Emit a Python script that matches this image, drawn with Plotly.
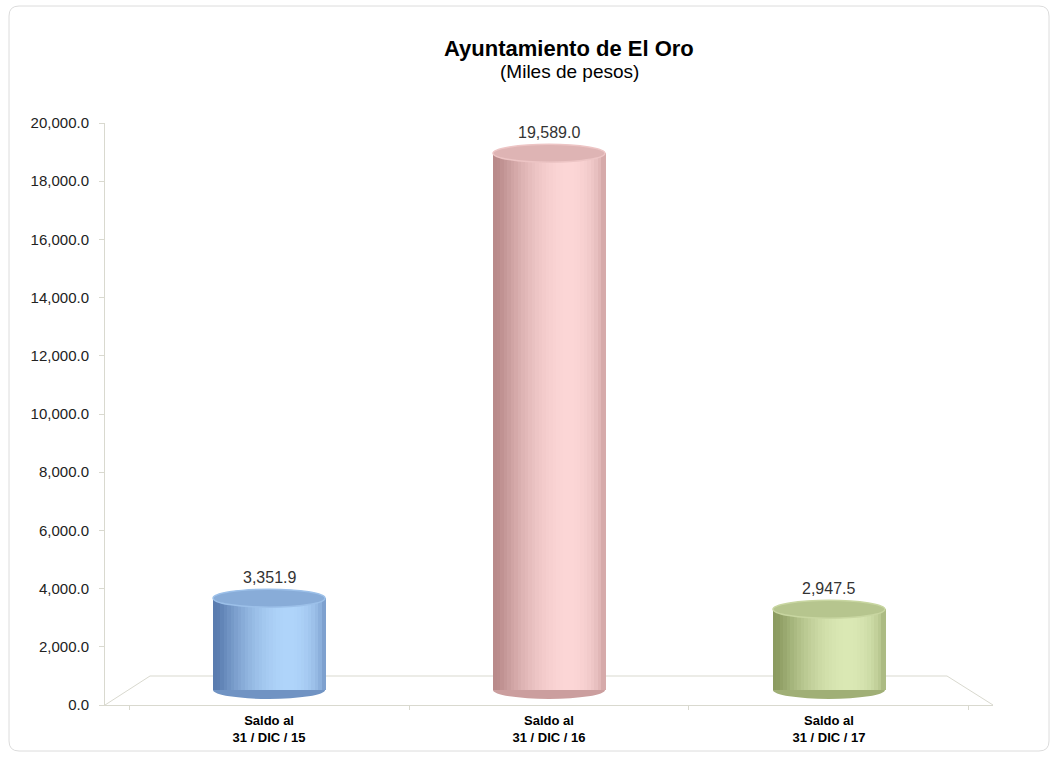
import math
import plotly.graph_objects as go

categories = ["Saldo al<br>31 / DIC / 15", "Saldo al<br>31 / DIC / 16", "Saldo al<br>31 / DIC / 17"]
values = [3351.9, 19589.0, 2947.5]
tick_vals = [0, 2000, 4000, 6000, 8000, 10000, 12000, 14000, 16000, 18000, 20000]

# cylinder colours: (dark edge, highlight)
bar_dark = [(78, 112, 165), (176, 128, 128), (128, 144, 84)]
bar_light = [(175, 212, 250), (252, 214, 214), (218, 232, 180)]

W, H = 1053, 757
L, R, T, B = 105, 993, 123, 705
FONT = "Arial, Liberation Sans, sans-serif"
floor_col = "#d9d9cf"

BAR_W = 0.4
N_STRIPS = 32
ELL_PX = 9                      # half height of cylinder caps in pixels
Y2_RANGE = [-547, 20693]        # scale used for the 3D cylinders
y2_per_px = (Y2_RANGE[1] - Y2_RANGE[0]) / (B - T)


def mix(c0, c1, t):
    t = max(0.0, min(1.0, t))
    return "rgb(%d,%d,%d)" % tuple(round(a + (b - a) * t) for a, b in zip(c0, c1))


def shade(u):
    theta = math.asin(max(-1.0, min(1.0, u)))
    d = max(0.0, math.cos(theta - 0.35))
    return 0.12 + 0.88 * d ** 1.5


fig = go.Figure()
# invisible trace that anchors the visible value axis
fig.add_trace(go.Scatter(x=categories, y=values, mode="markers", marker=dict(opacity=0),
                         hoverinfo="skip", showlegend=False))
step = BAR_W / N_STRIPS
for k in range(N_STRIPS):
    off = -BAR_W / 2 + k * step
    u = (off + step / 2) / (BAR_W / 2)
    s = shade(u)
    cols = [mix(d, l, s) for d, l in zip(bar_dark, bar_light)]
    fig.add_trace(go.Bar(
        x=categories, y=values, offset=off, width=step * 1.35,
        marker=dict(color=cols, line=dict(width=0)),
        yaxis="y2", hoverinfo="skip", showlegend=False,
    ))


def px(x):
    return (x - L) / (R - L)


def py(y):
    return (B - y) / (B - T)


shapes = []
ell_h = ELL_PX * y2_per_px
for i, v in enumerate(values):
    # bottom rounding
    shapes.append(dict(type="circle", xref="x", yref="y2", x0=i - BAR_W / 2, x1=i + BAR_W / 2,
                       y0=-ell_h, y1=ell_h, fillcolor=mix(bar_dark[i], bar_light[i], 0.35),
                       line=dict(width=0), layer="below"))
    # top cap
    shapes.append(dict(type="circle", xref="x", yref="y2", x0=i - BAR_W / 2, x1=i + BAR_W / 2,
                       y0=v - ell_h, y1=v + ell_h, fillcolor=mix(bar_dark[i], bar_light[i], 0.6),
                       line=dict(color=mix(bar_dark[i], bar_light[i], 0.8), width=1.5), layer="above"))

# 3D floor
shapes.append(dict(type="line", xref="paper", yref="paper", x0=px(150), y0=py(676), x1=px(947), y1=py(676),
                   line=dict(color=floor_col, width=1), layer="below"))
shapes.append(dict(type="line", xref="paper", yref="paper", x0=px(105), y0=py(705), x1=px(150), y1=py(676),
                   line=dict(color=floor_col, width=1), layer="below"))
shapes.append(dict(type="line", xref="paper", yref="paper", x0=px(947), y0=py(676), x1=px(993), y1=py(705),
                   line=dict(color=floor_col, width=1), layer="below"))
# outer rounded frame
x0, y0, x1, y1, r = px(9), py(6), px(1049), py(751), 10
rx, ry = r / (R - L), r / (B - T)
path = (f"M {x0+rx},{y0} L {x1-rx},{y0} Q {x1},{y0} {x1},{y0-ry} "
        f"L {x1},{y1+ry} Q {x1},{y1} {x1-rx},{y1} L {x0+rx},{y1} "
        f"Q {x0},{y1} {x0},{y1+ry} L {x0},{y0-ry} Q {x0},{y0} {x0+rx},{y0} Z")
shapes.append(dict(type="path", xref="paper", yref="paper", path=path,
                   line=dict(color="#dcdcdc", width=1), layer="below"))

annotations = [
    dict(text="<b>Ayuntamiento de El Oro</b>", xref="paper", yref="paper", x=px(569), y=py(48),
         showarrow=False, font=dict(family=FONT, size=22, color="#000000"), xanchor="center", yanchor="middle"),
    dict(text="(Miles de pesos)", xref="paper", yref="paper", x=px(569), y=py(71),
         showarrow=False, font=dict(family=FONT, size=19, color="#000000"), xanchor="center", yanchor="middle"),
]
for c, v in zip(categories, values):
    annotations.append(dict(text=f"{v:,.1f}", xref="x", yref="y2", x=c, y=v, yanchor="bottom",
                            yshift=ELL_PX + 1, showarrow=False,
                            font=dict(family=FONT, size=16, color="#333333")))

fig.update_layout(
    width=W, height=H,
    margin=dict(l=L, r=W - R, t=T, b=H - B),
    paper_bgcolor="white", plot_bgcolor="white",
    barmode="overlay", bargap=0,
    shapes=shapes, annotations=annotations,
    xaxis=dict(range=[-0.586, 2.586], showgrid=False, zeroline=False, showline=True,
               linecolor=floor_col, linewidth=1, ticks="outside", tickson="boundaries",
               ticklen=4, tickcolor=floor_col, ticklabelstandoff=3,
               tickfont=dict(family=FONT, size=13, color="#000000"),
               tickprefix="<b>", ticksuffix="</b>", fixedrange=True),
    yaxis=dict(range=[0, 20000], tickvals=tick_vals, tickformat=",.1f", showgrid=False, zeroline=False,
               showline=True, linecolor=floor_col, linewidth=1, ticks="outside", ticklen=5,
               tickcolor=floor_col, ticklabelstandoff=7,
               tickfont=dict(family=FONT, size=15, color="#222222"), fixedrange=True),
    yaxis2=dict(range=Y2_RANGE, overlaying="y", visible=False, fixedrange=True),
)

fig.write_html("out.html", config={"displayModeBar": False},
               post_script="document.body.style.margin='0';")
